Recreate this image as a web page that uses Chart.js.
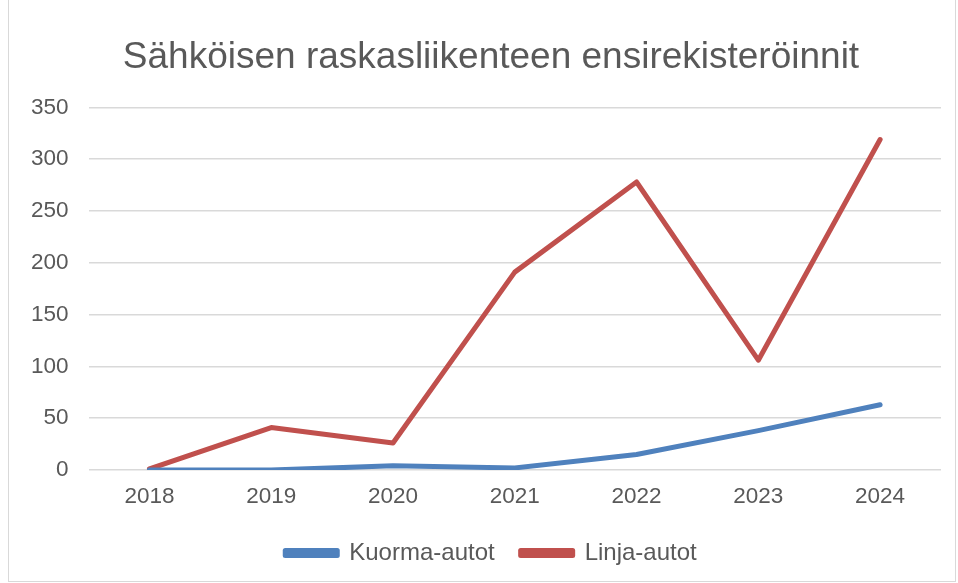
<!DOCTYPE html>
<html>
<head>
<meta charset="utf-8">
<script src="https://cdn.jsdelivr.net/npm/chart.js@4"></script>
<style>
  html, body { margin: 0; padding: 0; background: #fff; }
  #wrap { position: absolute; left: 8px; top: 0; width: 946px; height: 581px; border: 1px solid #d9d9d9; border-top: none; }
</style>
</head>
<body>
<div id="wrap"><canvas id="chart" width="946" height="581"></canvas></div>
<script>
const years = ["2018", "2019", "2020", "2021", "2022", "2023", "2024"];
const kuorma = [0, 0, 4, 2, 15, 38, 63];
const linja = [1, 41, 26, 191, 278, 106, 319];

const grey = "#595959";
const ctx = document.getElementById("chart");

// y labels get clipped to the scale box, so stretch that box back to the canvas edge
const unclipY = {
  id: "unclipY",
  afterLayout(chart) {
    chart.scales.y.left = 0;
  },
};

new Chart(ctx, {
  type: "line",
  data: {
    labels: years,
    datasets: [
      {
        label: "Kuorma-autot",
        data: kuorma,
        borderColor: "#4f81bd",
        backgroundColor: "#4f81bd",
        borderWidth: 5,
        pointRadius: 0,
        borderCapStyle: "round",
        borderJoinStyle: "round",
      },
      {
        label: "Linja-autot",
        data: linja,
        borderColor: "#c0504d",
        backgroundColor: "#c0504d",
        borderWidth: 5,
        pointRadius: 0,
        borderCapStyle: "round",
        borderJoinStyle: "round",
      },
    ],
  },
  plugins: [unclipY],
  options: {
    responsive: false,
    animation: false,
    // title and legend sit a bit right of the canvas centre, so pad left more
    layout: { padding: { left: 32, right: 14, top: 10, bottom: 6 } },
    plugins: {
      title: {
        display: true,
        text: "Sähköisen raskasliikenteen ensirekisteröinnit",
        color: grey,
        font: { family: "Liberation Sans", size: 37, weight: "normal" },
        padding: { top: 26, bottom: 27 },
      },
      legend: {
        position: "bottom",
        labels: {
          color: grey,
          font: { family: "Liberation Sans", size: 24 },
          boxWidth: 52,
          boxHeight: 5,
          padding: 26,
        },
      },
      tooltip: { enabled: false },
    },
    scales: {
      x: {
        offset: true,
        grid: { display: false },
        border: { display: false },
        ticks: { color: grey, font: { family: "Liberation Sans", size: 22.5 }, padding: 5 },
      },
      y: {
        min: 0,
        max: 350,
        ticks: { stepSize: 50, color: grey, font: { family: "Liberation Sans", size: 22.5 }, padding: 20 },
        grid: { color: "#d9d9d9", lineWidth: 1.5, drawTicks: false },
        border: { display: false },
        afterFit: (scale) => { scale.width -= 30; },
      },
    },
  },
});
</script>
</body>
</html>
